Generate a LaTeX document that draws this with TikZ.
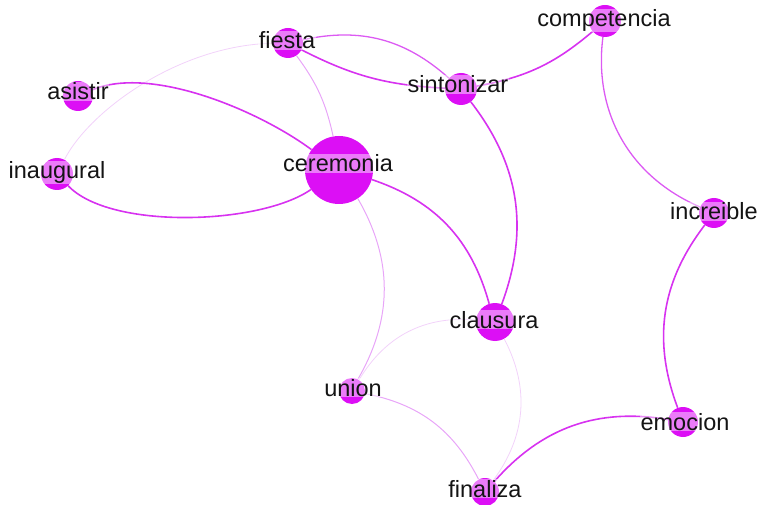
\documentclass[tikz,border=0pt]{standalone}
\usepackage{fontspec}
\setmainfont{Liberation Sans}
\definecolor{nodec}{RGB}{220,15,245}
\definecolor{edgeA}{RGB}{215,50,240}
\definecolor{edgeB}{RGB}{220,90,243}
\definecolor{edgeC}{RGB}{232,165,248}
\definecolor{edgeD}{RGB}{242,210,250}
\definecolor{labc}{RGB}{20,20,20}
\begin{document}
\begin{tikzpicture}[x=1pt,y=-1pt,
  vert/.style={circle, fill=nodec, draw=none, inner sep=0pt, minimum size=#1},
  lab/.style={font=\fontsize{23.5}{23.5}\selectfont, text=labc, fill=white, fill opacity=0.45, text opacity=1, inner sep=0.5pt, anchor=base},
  strong/.style={draw=edgeA, line width=1.6pt},
  medium/.style={draw=edgeB, line width=1.3pt},
  light/.style={draw=edgeC, line width=1pt},
  faint/.style={draw=edgeD, line width=0.8pt}]
\useasboundingbox (0,0) rectangle (758,505);
% vertices
\node[vert=68] (ceremonia) at (339,170) {};
\node[vert=30] (fiesta) at (288,43) {};
\node[vert=30] (asistir) at (78,96) {};
\node[vert=32] (inaugural) at (57,174) {};
\node[vert=32] (sintonizar) at (461,89) {};
\node[vert=32] (competencia) at (605,21) {};
\node[vert=30] (increible) at (714,213) {};
\node[vert=38] (clausura) at (495,322) {};
\node[vert=26] (union) at (352,391) {};
\node[vert=30] (emocion) at (683,422) {};
\node[vert=28] (finaliza) at (485,492) {};
% edges
\draw[faint] (inaugural) .. controls (90,110) and (180,45) .. (fiesta);
\draw[strong] (asistir) .. controls (150,65) and (258,110) .. (ceremonia);
\draw[strong] (inaugural) .. controls (110,230) and (260,225) .. (ceremonia);
\draw[light] (fiesta) to[bend left=12] (ceremonia);
\draw[medium] (fiesta) to[bend left=27] (sintonizar);
\draw[strong] (fiesta) to[bend right=12] (sintonizar);
\draw[strong] (sintonizar) to[bend right=15] (competencia);
\draw[strong] (sintonizar) to[bend left=29] (clausura);
\draw[strong] (ceremonia) to[bend left=28] (clausura);
\draw[light] (ceremonia) to[bend left=30] (union);
\draw[faint] (clausura) to[bend right=32] (union);
\draw[faint] (clausura) to[bend left=32] (finaliza);
\draw[light] (union) to[bend left=26] (finaliza);
\draw[strong] (finaliza) to[bend left=29] (emocion);
\draw[strong] (emocion) to[bend left=29] (increible);
\draw[medium] (competencia) to[bend right=37] (increible);
% labels
\node[lab] (ceremonia-t) at (338,172) {ceremonia};
\node[lab] (fiesta-t) at (287,49) {fiesta};
\node[lab] (asistir-t) at (78,100) {asistir};
\node[lab] (inaugural-t) at (57,179) {inaugural};
\node[lab] (sintonizar-t) at (458,93) {sintonizar};
\node[lab] (competencia-t) at (604,27) {competencia};
\node[lab] (increible-t) at (714,220) {increible};
\node[lab] (clausura-t) at (494,328) {clausura};
\node[lab] (union-t) at (353,396) {union};
\node[lab] (emocion-t) at (685,430) {emocion};
\node[lab] (finaliza-t) at (485,497) {finaliza};
\end{tikzpicture}
\end{document}
